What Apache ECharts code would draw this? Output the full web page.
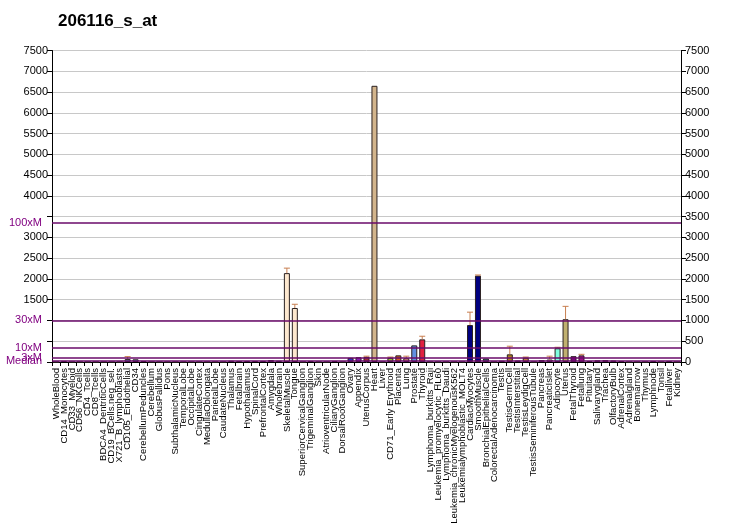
<!DOCTYPE html>
<html>
<head>
<meta charset="utf-8">
<script src="https://cdn.jsdelivr.net/npm/echarts@6/dist/echarts.min.js"></script>
<style>
html,body{margin:0;padding:0;background:#fff;overflow:hidden;}
#chart{width:732px;height:530px;}
</style>
</head>
<body>
<div id="chart"></div>
<script>
var title = '206116_s_at';
var categories = ['WholeBlood','CD14_Monocytes','CD33_Myeloid','CD56_NKCells','CD4_Tcells','CD8_Tcells','BDCA4_DentriticCells','CD19_BCells.neg_sel.','X721_B_lymphoblasts','CD105_Endothelial','CD34','CerebellumPeduncles','Cerebellum','GlobusPallidus','Pons','SubthalamicNucleus','TemporalLobe','OccipitalLobe','CingulateCortex','MedullaOblongata','ParietalLobe','CaudateNucleus','Thalamus','Fetalbrain','Hypothalamus','SpinalCord','PrefrontalCortex','Amygdala','Wholebrain','SkeletalMuscle','Tongue','SuperiorCervicalGanglion','TrigeminalGanglion','Skin','AtrioventricularNode','CiliaryGanglion','DorsalRootGanglion','Ovary','Appendix','UterusCorpus','Heart','Liver','CD71_Early Erythroid','Placenta','Lung','Prostate','Thyroid','Lymphoma_burkitts_Raji','Leukemia_promyelocytic_HL60','Lymphoma_burkitts_Daudi','Leukemia_chronicMyelogenousK562','Leukemialymphoblastic_MOLT4','CardiacMyocytes','SmoothMuscle','BronchialEpithelialCells','ColorectalAdenocarcinoma','Testis','TestisGermCell','TestisInterstitial','TestisLeydigCell','TestisSeminiferousTubule','Pancreas','PancreaticIslet','Adipocyte','Uterus','FetalThyroid','Fetallung','Pituitary','Salivarygland','Trachea','OlfactoryBulb','AdrenalCortex','Adrenalgland','Bonemarrow','Thymus','Lymphnode','Tonsil','Fetalliver','Kidney'];
var values = [0,25,0,0,0,0,0,0,0,70,65,20,0,0,0,0,0,0,0,0,0,0,30,20,25,25,25,45,30,2140,1300,0,25,0,0,25,0,100,115,125,6650,0,100,160,90,400,545,0,0,0,0,0,890,2080,85,0,30,185,35,105,0,45,60,330,1030,140,160,20,40,45,35,20,0,0,0,25,0,25,0];
var errHigh = [0,0,0,0,0,0,0,0,0,130,0,0,0,0,0,0,0,0,0,0,0,0,0,0,0,0,0,0,0,2260,1390,0,0,0,0,0,0,0,0,140,0,0,120,0,140,0,620,0,0,0,0,0,1200,2095,0,0,0,380,0,120,0,0,140,355,1340,0,185,0,0,0,0,0,0,0,0,0,0,0,0];
var barColors = ['#999999','#a07878','#999999','#999999','#999999','#999999','#999999','#999999','#999999','#40c8c8','#40c0c8','#303030','#999999','#999999','#999999','#999999','#999999','#999999','#999999','#999999','#999999','#999999','#9a7080','#302030','#402040','#302030','#a07080','#905060','#402040','#fde8cf','#fde8cf','#999999','#a07080','#999999','#999999','#402040','#999999','#3030c0','#9020c0','#a03030','#d2b48c','#999999','#90c030','#d06020','#e09080','#6090e0','#e02040','#999999','#999999','#999999','#999999','#999999','#000080','#000080','#306868','#999999','#a07080','#b08020','#905050','#c08040','#999999','#9090a0','#d0a0b0','#80ffe0','#c0b070','#800080','#a0108a','#a06050','#604080','#703070','#704040','#a06050','#999999','#999999','#999999','#503050','#999999','#503050','#999999'];
var hiddenLeft = [0,500,1000,3500];
var median = 33.5;
var multLabels = ['Median','3xM','10xM','30xM','100xM'];
var multFactors = [1,3,10,30,100];

var chart = echarts.init(document.getElementById('chart'), null, {renderer:'canvas'});
var FONT = "'Liberation Sans', Arial, sans-serif";

var barData = values.map(function(v,i){
  return {value:v, itemStyle:{color:barColors[i]}};
});
var errData = values.map(function(v,i){ return [i, v, errHigh[i]]; });

var markData = multFactors.map(function(f,i){
  return {yAxis: median*f, label:{formatter: multLabels[i]}};
});

var option = {
  animation:false,
  title:{text:title, left:53, top:8, textStyle:{fontFamily:FONT, fontSize:17, fontWeight:'bold', color:'#000'}},
  grid:{left:52, right:51, top:50.5, bottom:168, outerBoundsMode:'none', containLabel:false},
  xAxis:{
    type:'category', data:categories,
    axisLine:{lineStyle:{color:'#000', width:1}},
    axisTick:{show:true, length:4, lineStyle:{color:'#000'}},
    axisLabel:{interval:0, rotate:90, fontSize:9.5, fontFamily:FONT, color:'#000', margin:6, hideOverlap:false}
  },
  yAxis:[{
    type:'value', min:0, max:7500, interval:500, position:'left',
    axisLine:{show:true, lineStyle:{color:'#000'}},
    axisTick:{show:true, length:5, lineStyle:{color:'#000'}},
    axisLabel:{fontSize:11, fontFamily:FONT, color:'#000', margin:4,
      formatter:function(v){ return hiddenLeft.indexOf(v)>=0 ? '' : String(v); }},
    splitLine:{show:true, lineStyle:{color:'#c8c8c8', width:1}}
  },{
    type:'value', min:0, max:7500, interval:500, position:'right',
    axisLine:{show:true, lineStyle:{color:'#000'}},
    axisTick:{show:true, length:5, lineStyle:{color:'#000'}},
    axisLabel:{fontSize:11, fontFamily:FONT, color:'#000', margin:4,
      formatter:function(v){ return String(v); }},
    splitLine:{show:false}
  }],
  series:[{
    type:'bar', data:barData, barWidth:6,
    itemStyle:{borderColor:'#2a2020', borderWidth:1},
    markLine:{
      silent:true, symbol:'none',
      lineStyle:{color:'#6a0a6a', width:1.5, type:'solid'},
      label:{show:true, position:'start', distance:10, color:'#800080', fontSize:11, fontFamily:FONT},
      data:markData
    },
    z:2
  },{
    type:'custom', data:errData, z:3,
    renderItem:function(params, api){
      var i = api.value(0), v = api.value(1), e = api.value(2);
      if (!(e > v)) return null;
      var p0 = api.coord([i, v]);
      var p1 = api.coord([i, e]);
      var c = '#c87f50';
      return {type:'group', children:[
        {type:'line', shape:{x1:p0[0], y1:p0[1], x2:p1[0], y2:p1[1]}, style:{stroke:c, lineWidth:1}},
        {type:'line', shape:{x1:p1[0]-3, y1:p1[1], x2:p1[0]+3, y2:p1[1]}, style:{stroke:c, lineWidth:1}}
      ]};
    }
  }]
};
chart.setOption(option);
</script>
</body>
</html>
